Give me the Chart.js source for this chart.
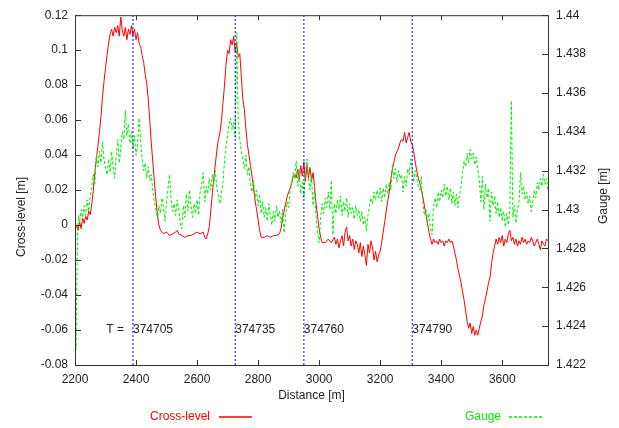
<!DOCTYPE html>
<html>
<head>
<meta charset="utf-8">
<title>Cross-level and gauge</title>
<script src="https://cdn.jsdelivr.net/npm/chart.js@4.4.0/dist/chart.umd.min.js"></script>
<style>
  html, body { margin: 0; padding: 0; background: #fff; }
  #wrap { width: 619px; height: 428px; }
</style>
</head>
<body>
<div id="wrap"><canvas id="chart"></canvas></div>
<script>
// Cross-level [m] along the track
const crossDist = [
  2200, 2205, 2210, 2215, 2220, 2225, 2230, 2235, 2240, 2245,
  2250, 2255, 2260, 2265, 2270, 2275, 2280, 2285, 2290, 2295,
  2300, 2305, 2310, 2315, 2320, 2325, 2330, 2335, 2340, 2345,
  2350, 2355, 2360, 2365, 2370, 2375, 2380, 2385, 2390, 2395,
  2400, 2405, 2410, 2415, 2420, 2425, 2430, 2435, 2440, 2445,
  2450, 2455, 2460, 2465, 2470, 2475, 2480, 2490, 2500, 2510,
  2520, 2530, 2535, 2540, 2550, 2560, 2570, 2580, 2590, 2600,
  2610, 2620, 2625, 2630, 2635, 2640, 2645, 2650, 2655, 2660,
  2665, 2670, 2675, 2680, 2685, 2690, 2695, 2700, 2705, 2710,
  2715, 2720, 2725, 2730, 2735, 2740, 2745, 2750, 2755, 2760,
  2765, 2770, 2775, 2780, 2785, 2790, 2795, 2800, 2805, 2810,
  2820, 2830, 2840, 2850, 2860, 2870, 2875, 2880, 2885, 2890,
  2895, 2900, 2905, 2910, 2915, 2920, 2925, 2930, 2935, 2940,
  2945, 2950, 2955, 2960, 2965, 2970, 2975, 2980, 2985, 2990,
  2995, 3000, 3005, 3010, 3020, 3030, 3040, 3050, 3055, 3060,
  3065, 3070, 3075, 3080, 3085, 3090, 3095, 3100, 3105, 3110,
  3115, 3120, 3125, 3130, 3135, 3140, 3145, 3150, 3155, 3160,
  3165, 3170, 3175, 3180, 3185, 3190, 3195, 3200, 3205, 3210,
  3215, 3220, 3225, 3230, 3235, 3240, 3245, 3250, 3255, 3260,
  3265, 3270, 3275, 3280, 3285, 3290, 3295, 3300, 3305, 3310,
  3315, 3320, 3325, 3330, 3335, 3340, 3345, 3350, 3355, 3360,
  3365, 3370, 3375, 3380, 3385, 3390, 3395, 3400, 3405, 3410,
  3415, 3420, 3425, 3430, 3435, 3440, 3445, 3450, 3455, 3460,
  3465, 3470, 3475, 3480, 3485, 3490, 3495, 3500, 3505, 3510,
  3515, 3520, 3525, 3530, 3535, 3540, 3545, 3550, 3555, 3560,
  3565, 3570, 3575, 3580, 3585, 3590, 3595, 3600, 3605, 3610,
  3615, 3620, 3625, 3630, 3635, 3640, 3645, 3650, 3655, 3660,
  3665, 3670, 3675, 3680, 3685, 3690, 3695, 3700, 3705, 3710,
  3715, 3720, 3725, 3730, 3735, 3740, 3745, 3750
];
const crossLevel = [
  -0.004, 0.000, -0.003, 0.002, -0.002, 0.004, 0.001, 0.005, 0.003, 0.008,
  0.006, 0.012, 0.020, 0.030, 0.038, 0.045, 0.053, 0.062, 0.073, 0.082,
  0.090, 0.097, 0.104, 0.109, 0.112, 0.108, 0.113, 0.110, 0.114, 0.108,
  0.119, 0.111, 0.108, 0.113, 0.106, 0.112, 0.109, 0.114, 0.108, 0.112,
  0.106, 0.110, 0.104, 0.102, 0.097, 0.093, 0.086, 0.081, 0.072, 0.060,
  0.047, 0.036, 0.025, 0.015, 0.006, 0.000, -0.003, -0.005, -0.004, -0.006,
  -0.005, -0.004, -0.003, -0.005, -0.006, -0.007, -0.006, -0.006, -0.005, -0.004,
  -0.005, -0.004, -0.007, -0.008, -0.005, -0.001, 0.008, 0.018, 0.027, 0.035,
  0.043, 0.049, 0.053, 0.060, 0.070, 0.080, 0.092, 0.100, 0.098, 0.106,
  0.103, 0.108, 0.099, 0.104, 0.096, 0.098, 0.085, 0.072, 0.066, 0.055,
  0.046, 0.040, 0.034, 0.028, 0.022, 0.014, 0.009, 0.003, -0.003, -0.007,
  -0.007, -0.006, -0.007, -0.006, -0.006, -0.005, -0.002, 0.003, 0.008, 0.012,
  0.016, 0.019, 0.021, 0.024, 0.028, 0.029, 0.027, 0.032, 0.026, 0.034,
  0.028, 0.036, 0.025, 0.034, 0.027, 0.033, 0.025, 0.030, 0.022, 0.012,
  0.005, -0.002, -0.007, -0.010, -0.010, -0.008, -0.010, -0.007, -0.011, -0.008,
  -0.013, -0.009, -0.006, -0.012, -0.004, -0.001, -0.009, -0.006, -0.012, -0.008,
  -0.014, -0.009, -0.011, -0.016, -0.010, -0.018, -0.012, -0.017, -0.023, -0.011,
  -0.016, -0.009, -0.013, -0.020, -0.015, -0.021, -0.017, -0.015, -0.010, -0.004,
  0.002, 0.008, 0.014, 0.019, 0.026, 0.032, 0.036, 0.040, 0.042, 0.044,
  0.047, 0.049, 0.048, 0.053, 0.047, 0.050, 0.053, 0.048, 0.046, 0.042,
  0.036, 0.031, 0.027, 0.024, 0.020, 0.016, 0.011, 0.006, 0.001, -0.004,
  -0.008, -0.011, -0.008, -0.010, -0.009, -0.011, -0.008, -0.010, -0.009, -0.012,
  -0.009, -0.010, -0.008, -0.010, -0.009, -0.012, -0.016, -0.020, -0.025, -0.029,
  -0.033, -0.038, -0.043, -0.049, -0.055, -0.059, -0.056, -0.062, -0.058, -0.063,
  -0.060, -0.063, -0.059, -0.055, -0.052, -0.046, -0.042, -0.038, -0.033, -0.030,
  -0.022, -0.016, -0.012, -0.008, -0.011, -0.007, -0.010, -0.006, -0.012, -0.008,
  -0.010, -0.005, -0.003, -0.009, -0.007, -0.011, -0.008, -0.012, -0.009, -0.011,
  -0.007, -0.010, -0.008, -0.011, -0.009, -0.010, -0.007, -0.009, -0.012, -0.010,
  -0.008, -0.011, -0.014, -0.009, -0.011, -0.012, -0.008, -0.009
];

// Gauge [m] along the track (right axis)
const gaugeDist = [
  2200, 2203, 2206, 2209, 2212, 2215, 2220, 2225, 2230, 2235,
  2240, 2245, 2250, 2255, 2260, 2265, 2270, 2275, 2280, 2285,
  2290, 2295, 2300, 2305, 2310, 2315, 2320, 2325, 2330, 2335,
  2340, 2345, 2350, 2355, 2360, 2365, 2370, 2375, 2380, 2385,
  2390, 2395, 2400, 2405, 2410, 2415, 2420, 2425, 2430, 2435,
  2440, 2445, 2450, 2455, 2460, 2465, 2470, 2475, 2480, 2485,
  2490, 2495, 2500, 2505, 2510, 2515, 2520, 2525, 2530, 2535,
  2540, 2545, 2550, 2555, 2560, 2565, 2570, 2575, 2580, 2585,
  2590, 2595, 2600, 2605, 2610, 2615, 2620, 2625, 2630, 2635,
  2640, 2645, 2650, 2655, 2660, 2665, 2670, 2675, 2680, 2685,
  2690, 2695, 2700, 2705, 2710, 2715, 2720, 2725, 2730, 2735,
  2740, 2745, 2750, 2755, 2760, 2765, 2770, 2775, 2780, 2785,
  2790, 2795, 2800, 2805, 2810, 2815, 2820, 2825, 2830, 2835,
  2840, 2845, 2850, 2855, 2860, 2865, 2870, 2875, 2880, 2885,
  2890, 2895, 2900, 2905, 2910, 2915, 2920, 2925, 2930, 2935,
  2940, 2945, 2950, 2955, 2960, 2965, 2970, 2975, 2980, 2985,
  2990, 2995, 3000, 3005, 3010, 3015, 3020, 3025, 3030, 3035,
  3040, 3045, 3050, 3055, 3060, 3065, 3070, 3075, 3080, 3085,
  3090, 3095, 3100, 3105, 3110, 3115, 3120, 3125, 3130, 3135,
  3140, 3145, 3150, 3155, 3160, 3165, 3170, 3175, 3180, 3185,
  3190, 3195, 3200, 3205, 3210, 3215, 3220, 3225, 3230, 3235,
  3240, 3245, 3250, 3255, 3260, 3265, 3270, 3275, 3280, 3285,
  3290, 3295, 3300, 3305, 3310, 3315, 3320, 3325, 3330, 3335,
  3340, 3345, 3350, 3355, 3360, 3365, 3370, 3375, 3380, 3385,
  3390, 3395, 3400, 3405, 3410, 3415, 3420, 3425, 3430, 3435,
  3440, 3445, 3450, 3455, 3460, 3465, 3470, 3475, 3480, 3485,
  3490, 3495, 3500, 3505, 3510, 3515, 3520, 3525, 3530, 3535,
  3540, 3545, 3550, 3555, 3560, 3565, 3570, 3575, 3580, 3585,
  3590, 3595, 3600, 3605, 3610, 3615, 3620, 3625, 3630, 3635,
  3640, 3645, 3650, 3655, 3660, 3665, 3670, 3675, 3680, 3685,
  3690, 3695, 3700, 3705, 3710, 3715, 3720, 3725, 3730, 3735,
  3740, 3745, 3750
];
const gauge = [
  1.4280, 1.4228, 1.4262, 1.4290, 1.4297, 1.4293, 1.4300, 1.4296, 1.4302, 1.4297,
  1.4305, 1.4299, 1.4307, 1.4312, 1.4318, 1.4313, 1.4328, 1.4322, 1.4330, 1.4324,
  1.4335, 1.4326, 1.4321, 1.4318, 1.4326, 1.4319, 1.4330, 1.4322, 1.4316, 1.4328,
  1.4336, 1.4324, 1.4332, 1.4340, 1.4336, 1.4351, 1.4338, 1.4344, 1.4334, 1.4340,
  1.4331, 1.4338, 1.4328, 1.4333, 1.4347, 1.4336, 1.4326, 1.4320, 1.4324, 1.4316,
  1.4322, 1.4315, 1.4318, 1.4310, 1.4304, 1.4300, 1.4295, 1.4302, 1.4298, 1.4306,
  1.4301, 1.4294, 1.4304, 1.4311, 1.4318, 1.4305, 1.4299, 1.4303, 1.4297, 1.4305,
  1.4300, 1.4293, 1.4290, 1.4302, 1.4296, 1.4308, 1.4299, 1.4310, 1.4302, 1.4296,
  1.4303, 1.4298, 1.4305, 1.4297, 1.4309, 1.4313, 1.4319, 1.4304, 1.4312, 1.4308,
  1.4316, 1.4310, 1.4318, 1.4313, 1.4320, 1.4311, 1.4307, 1.4303, 1.4309, 1.4314,
  1.4325, 1.4333, 1.4338, 1.4344, 1.4347, 1.4341, 1.4345, 1.4337, 1.4391, 1.4345,
  1.4336, 1.4330, 1.4326, 1.4321, 1.4328, 1.4318, 1.4322, 1.4312, 1.4309, 1.4315,
  1.4306, 1.4310, 1.4302, 1.4308, 1.4298, 1.4304, 1.4296, 1.4301, 1.4294, 1.4303,
  1.4297, 1.4292, 1.4299, 1.4294, 1.4302, 1.4296, 1.4299, 1.4293, 1.4300, 1.4288,
  1.4297, 1.4304, 1.4301, 1.4309, 1.4314, 1.4319, 1.4316, 1.4325, 1.4312, 1.4320,
  1.4308, 1.4314, 1.4306, 1.4318, 1.4326, 1.4316, 1.4310, 1.4318, 1.4302, 1.4310,
  1.4296, 1.4288, 1.4283, 1.4296, 1.4303, 1.4298, 1.4306, 1.4301, 1.4309, 1.4300,
  1.4315, 1.4287, 1.4303, 1.4298, 1.4305, 1.4300, 1.4307, 1.4297, 1.4304, 1.4299,
  1.4306, 1.4296, 1.4303, 1.4298, 1.4301, 1.4295, 1.4302, 1.4297, 1.4300, 1.4294,
  1.4299, 1.4292, 1.4296, 1.4289, 1.4297, 1.4302, 1.4306, 1.4303, 1.4309, 1.4305,
  1.4310, 1.4306, 1.4311, 1.4304, 1.4311, 1.4306, 1.4313, 1.4308, 1.4314, 1.4310,
  1.4323, 1.4316, 1.4321, 1.4314, 1.4320, 1.4316, 1.4318, 1.4309, 1.4317, 1.4312,
  1.4321, 1.4318, 1.4326, 1.4321, 1.4314, 1.4320, 1.4316, 1.4312, 1.4310, 1.4317,
  1.4303, 1.4297, 1.4300, 1.4294, 1.4298, 1.4290, 1.4287, 1.4302, 1.4306, 1.4301,
  1.4309, 1.4304, 1.4310, 1.4306, 1.4313, 1.4307, 1.4312, 1.4305, 1.4311, 1.4303,
  1.4309, 1.4302, 1.4308, 1.4301, 1.4307, 1.4312, 1.4319, 1.4325, 1.4322, 1.4329,
  1.4324, 1.4331, 1.4326, 1.4329, 1.4323, 1.4327, 1.4321, 1.4315, 1.4304, 1.4317,
  1.4300, 1.4313, 1.4306, 1.4311, 1.4294, 1.4309, 1.4302, 1.4307, 1.4298, 1.4304,
  1.4296, 1.4301, 1.4294, 1.4299, 1.4291, 1.4298, 1.4292, 1.4300, 1.4356, 1.4296,
  1.4302, 1.4293, 1.4300, 1.4304, 1.4319, 1.4308, 1.4312, 1.4305, 1.4309, 1.4303,
  1.4307, 1.4299, 1.4304, 1.4310, 1.4306, 1.4314, 1.4310, 1.4316, 1.4312, 1.4318,
  1.4313, 1.4316, 1.4310
];

// passing times, marked by the dotted blue lines
const markDist = [2390, 2725, 2950, 3305];
const markTimes = ['374705', '374735', '374760', '374790'];

const xTicks = [2200, 2400, 2600, 2800, 3000, 3200, 3400, 3600];
const yTicks = [-0.08, -0.06, -0.04, -0.02, 0, 0.02, 0.04, 0.06, 0.08, 0.1, 0.12];
const y2Ticks = [1.422, 1.424, 1.426, 1.428, 1.43, 1.432, 1.434, 1.436, 1.438, 1.44];

const FONT = '"Liberation Sans", Arial, sans-serif';
const RED = '#ff0000';
const GREEN = '#00ee00';
const BLUE = '#0000ff';

const toPoints = (xs, ys) => xs.map((x, i) => ({ x: x, y: ys[i] }));

const markSets = markDist.map(d => ({
  label: 'T',
  data: [{ x: d, y: -0.08 }, { x: d, y: 0.12 }],
  yAxisID: 'y',
  borderColor: BLUE,
  borderWidth: 1,
  borderDash: [2, 2],
  pointRadius: 0,
  order: 0
}));

// frame, inward ticks, axis titles, T labels and the key below the plot
const gnuplotLook = {
  id: 'gnuplotLook',
  afterDraw(chart) {
    const { ctx, chartArea: a, scales } = chart;
    const sx = scales.x, sy = scales.y, sy2 = scales.y2;
    ctx.save();
    ctx.strokeStyle = '#333';
    ctx.lineWidth = 1;
    ctx.strokeRect(a.left + 0.5, a.top + 0.5, a.right - a.left, a.bottom - a.top);
    ctx.beginPath();
    sx.ticks.forEach(t => {
      const p = Math.round(sx.getPixelForValue(t.value)) + 0.5;
      ctx.moveTo(p, a.bottom); ctx.lineTo(p, a.bottom - 5);
      ctx.moveTo(p, a.top); ctx.lineTo(p, a.top + 5);
    });
    sy.ticks.forEach(t => {
      const p = Math.round(sy.getPixelForValue(t.value)) + 0.5;
      ctx.moveTo(a.left, p); ctx.lineTo(a.left + 6, p);
    });
    sy2.ticks.forEach(t => {
      const p = Math.round(sy2.getPixelForValue(t.value)) + 0.5;
      ctx.moveTo(a.right, p); ctx.lineTo(a.right - 6, p);
    });
    ctx.stroke();

    ctx.font = '12px ' + FONT;
    ctx.fillStyle = '#222';
    ctx.textBaseline = 'middle';
    ctx.textAlign = 'center';
    ctx.fillText('Distance [m]', (a.left + a.right) / 2, 396);
    ctx.save();
    ctx.translate(22, 217);
    ctx.rotate(-Math.PI / 2);
    ctx.fillText('Cross-level [m]', 0, 0);
    ctx.restore();
    ctx.save();
    ctx.translate(604, 196);
    ctx.rotate(-Math.PI / 2);
    ctx.fillText('Gauge [m]', 0, 0);
    ctx.restore();

    const ty = sy.getPixelForValue(-0.06);
    ctx.textAlign = 'right';
    ctx.fillText('T =', sx.getPixelForValue(markDist[0]) - 9, ty);
    ctx.textAlign = 'left';
    markDist.forEach((d, i) => {
      ctx.fillText(markTimes[i], sx.getPixelForValue(d), ty);
    });

    // key
    const ky = 417;
    ctx.textAlign = 'right';
    ctx.fillStyle = RED;
    ctx.fillText('Cross-level', 210, ky);
    ctx.strokeStyle = RED;
    ctx.lineWidth = 1.3;
    ctx.beginPath();
    ctx.moveTo(219, ky); ctx.lineTo(252, ky);
    ctx.stroke();
    ctx.fillStyle = GREEN;
    ctx.fillText('Gauge', 501, ky);
    ctx.strokeStyle = GREEN;
    ctx.setLineDash([3, 2]);
    ctx.beginPath();
    ctx.moveTo(509, ky); ctx.lineTo(543, ky);
    ctx.stroke();
    ctx.restore();
  }
};

new Chart(document.getElementById('chart'), {
  type: 'line',
  data: {
    datasets: [
      {
        label: 'Cross-level',
        data: toPoints(crossDist, crossLevel),
        yAxisID: 'y',
        borderColor: RED,
        borderWidth: 1,
        pointRadius: 0,
        order: 2
      },
      {
        label: 'Gauge',
        data: toPoints(gaugeDist, gauge),
        yAxisID: 'y2',
        borderColor: GREEN,
        borderWidth: 1,
        borderDash: [3, 2],
        pointRadius: 0,
        order: 1
      },
      ...markSets
    ]
  },
  options: {
    responsive: true,
    maintainAspectRatio: false,
    animation: false,
    devicePixelRatio: 1,
    layout: { padding: { top: 12, left: 0, right: 0, bottom: 0 } },
    plugins: {
      legend: { display: false },
      tooltip: { enabled: false }
    },
    scales: {
      x: {
        type: 'linear',
        min: 2200,
        max: 3750,
        afterBuildTicks: s => { s.ticks = xTicks.map(v => ({ value: v })); },
        afterFit: s => { s.height = 63; },
        grid: { display: false, drawTicks: false },
        border: { display: false },
        ticks: { color: '#222', padding: 7, maxRotation: 0, callback: v => String(v), font: { family: FONT, size: 12 } }
      },
      y: {
        position: 'left',
        min: -0.08,
        max: 0.12,
        afterBuildTicks: s => { s.ticks = yTicks.map(v => ({ value: v })); },
        afterFit: s => { s.width = 75; },
        grid: { display: false, drawTicks: false },
        border: { display: false },
        ticks: { color: '#222', padding: 7, callback: v => String(v), font: { family: FONT, size: 12 } }
      },
      y2: {
        position: 'right',
        min: 1.422,
        max: 1.44,
        afterBuildTicks: s => { s.ticks = y2Ticks.map(v => ({ value: v })); },
        afterFit: s => { s.width = 71; },
        grid: { display: false, drawTicks: false },
        border: { display: false },
        ticks: { color: '#222', padding: 8, callback: v => String(v), font: { family: FONT, size: 12 } }
      }
    }
  },
  plugins: [gnuplotLook]
});
</script>
</body>
</html>
